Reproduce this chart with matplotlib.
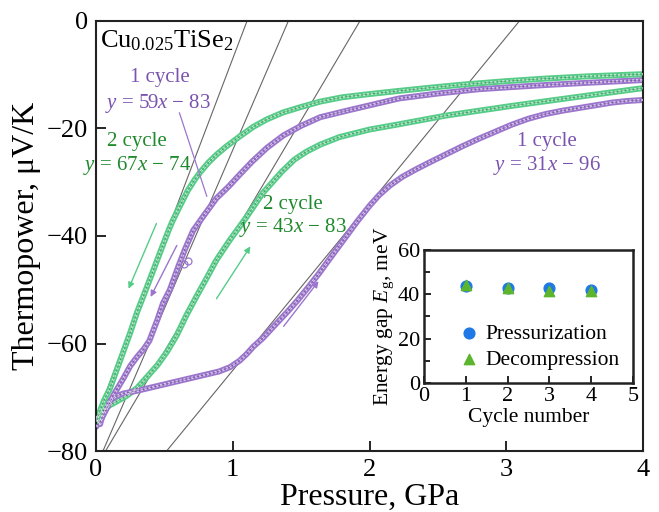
import matplotlib
matplotlib.use("Agg")
import matplotlib.pyplot as plt

plt.rcParams['font.family'] = ['Liberation Serif', 'DejaVu Serif']
plt.rcParams['mathtext.fontset'] = 'custom'
plt.rcParams['mathtext.rm'] = 'Liberation Serif'
plt.rcParams['mathtext.it'] = 'Liberation Serif:italic'

# --- main panel data ---
# cycle 1, pressurization (lower purple)
p1_up_x = [0.00, 0.03, 0.06, 0.10, 0.15, 0.20, 0.30, 0.40, 0.50, 0.60, 0.70, 0.80, 0.90,
           0.98, 1.05, 1.10, 1.15, 1.22, 1.30, 1.40, 1.47, 1.55, 1.63, 1.71, 1.80, 1.91,
           2.00, 2.07, 2.15, 2.24, 2.34, 2.44, 2.56, 2.68, 2.80, 2.92, 3.04, 3.16, 3.29,
           3.41, 3.53, 3.65, 3.77, 3.88, 4.00]
p1_up_y = [-73.5, -75.0, -72.0, -70.6, -69.8, -69.3, -68.8, -68.2, -67.6, -67.0, -66.4, -65.8, -65.2,
           -64.4, -63.2, -62.0, -60.6, -59.0, -56.8, -54.1, -52.1, -49.6, -47.0, -44.2, -41.1, -37.3,
           -34.4, -32.4, -30.6, -29.0, -27.6, -26.3, -24.8, -23.3, -21.9, -20.6, -19.3, -18.2, -17.3,
           -16.7, -16.2, -15.7, -15.2, -14.9, -14.7]

# cycle 1, decompression (upper purple)
p1_dn_x = [0.00, 0.03, 0.08, 0.13, 0.20, 0.25, 0.30, 0.35, 0.39, 0.45, 0.49, 0.54, 0.60, 0.65,
           0.71, 0.78, 0.88, 0.97, 1.05, 1.14, 1.25, 1.37, 1.50, 1.64, 1.85, 2.05, 2.22, 2.50,
           2.80, 3.04, 3.30, 3.60, 4.00]
p1_dn_y = [-75.5, -74.5, -72.0, -69.5, -66.5, -64.2, -62.5, -61.0, -59.5, -55.5, -52.5, -50.0, -45.8, -42.5,
           -39.0, -36.5, -33.0, -30.8, -28.6, -26.2, -23.6, -21.3, -19.5, -17.9, -16.6, -15.4, -14.4, -13.5,
           -12.7, -12.3, -11.9, -11.5, -11.0]
p1_out_x = [0.64, 0.67]
p1_out_y = [-45.2, -44.6]

# cycle 2, pressurization (lower green)
p2_up_x = [0.00, 0.05, 0.10, 0.15, 0.22, 0.30, 0.37, 0.45, 0.52, 0.59, 0.66, 0.74, 0.81, 0.88,
           0.98, 1.10, 1.22, 1.36, 1.45, 1.54, 1.64, 1.78, 2.00, 2.22, 2.56, 3.04, 3.53, 4.00]
p2_up_y = [-74.0, -72.5, -71.5, -70.8, -69.8, -68.3, -66.3, -64.0, -61.5, -58.5, -54.8, -51.0, -47.8, -44.5,
           -40.7, -36.5, -32.0, -28.0, -25.8, -24.3, -23.0, -21.6, -20.2, -19.2, -17.6, -15.8, -14.1, -12.5]

# cycle 2, decompression (upper green)
p2_dn_x = [0.00, 0.03, 0.06, 0.10, 0.15, 0.20, 0.25, 0.30, 0.36, 0.42, 0.48, 0.53, 0.56, 0.61,
           0.67, 0.72, 0.76, 0.82, 0.88, 0.95, 1.05, 1.15, 1.25, 1.37, 1.50, 1.64, 1.80, 2.00,
           2.22, 2.45, 2.70, 3.00, 3.30, 3.60, 3.80, 4.00]
p2_dn_y = [-74.5, -72.5, -70.5, -68.5, -65.0, -61.5, -58.0, -54.2, -50.3, -46.3, -42.3, -39.0, -37.2, -34.6,
           -31.6, -29.6, -28.2, -26.4, -24.9, -23.4, -21.5, -19.7, -18.3, -17.0, -16.0, -15.0, -14.2, -13.6,
           -13.0, -12.4, -11.8, -11.2, -10.7, -10.3, -10.1, -9.9]

# linear fits: slope, intercept
fit_slopes = [67, 59, 43, 31]
fit_icepts = [-74, -83, -83, -96]

# --- inset data ---
cycles = [1, 2, 3, 4]
gap_press = [43.8, 42.8, 42.8, 42.0]
gap_decomp = [44.3, 42.8, 41.7, 41.5]

purple = '#9b76cc'
purple_txt = '#7a52b0'
green = '#56cc88'
green_txt = '#1f8a2c'

fig = plt.figure(figsize=(6.59, 5.12), dpi=100)
ax = fig.add_axes([0.1457, 0.1191, 0.830, 0.840])

for k, b in zip(fit_slopes, fit_icepts):
    ax.plot([-1, 5], [k * -1 + b, k * 5 + b], color='#666666', lw=0.8, zorder=1)


def band(x, y, c, dark):
    # dense open markers in the original -> textured tube
    ax.plot(x, y, color=c, lw=4.3, solid_capstyle='round', solid_joinstyle='round', zorder=2)
    ax.plot(x, y, color='white', lw=1.6, ls=(0, (1.0, 0.8)), alpha=0.8, zorder=3)
    ax.plot(x, y, color=dark, lw=0.5, alpha=0.6, zorder=3)


band(p2_up_x, p2_up_y, green, '#1f7a3c')
band(p1_up_x, p1_up_y, purple, '#5a3290')
band(p1_dn_x, p1_dn_y, purple, '#5a3290')
ax.plot(p1_out_x, p1_out_y, ls='none', marker='o', ms=5, mfc='none', mec=purple, mew=0.9, zorder=3)
band(p2_dn_x, p2_dn_y, green, '#1f7a3c')

# direction arrows
arr = [((0.45, -37.2), (0.23, -50.3), green),
       ((0.60, -41.3), (0.39, -51.8), purple),
       ((0.87, -52.1), (1.14, -41.5), green),
       ((1.36, -57.2), (1.64, -48.0), purple)]
for start, end, c in arr:
    ax.annotate('', xy=end, xytext=start,
                arrowprops=dict(arrowstyle='-|>', color=c, lw=1.0, mutation_scale=9), zorder=4)

# leader line for the 59x-83 label
ax.plot([0.61, 0.81], [-17.1, -32.6], color=purple, lw=0.9, zorder=4)

fs = 15
ax.text(0.03, -3.6, r'Cu$_{0.025}$TiSe$_2$', fontsize=19, ha='left', va='center')
ax.text(0.467, -10.6, '1 cycle', color=purple_txt, fontsize=fs, ha='center', va='center')
ax.text(0.453, -15.3, r'$y$ = 59$x$ − 83', color=purple_txt, fontsize=fs, ha='center', va='center')
ax.text(0.30, -22.5, '2 cycle', color=green_txt, fontsize=fs, ha='center', va='center')
ax.text(0.30, -26.8, r'$y$ = 67$x$ − 74', color=green_txt, fontsize=fs, ha='center', va='center')
ax.text(1.44, -34.2, '2 cycle', color=green_txt, fontsize=fs, ha='center', va='center')
ax.text(1.44, -38.5, r'$y$ = 43$x$ − 83', color=green_txt, fontsize=fs, ha='center', va='center')
ax.text(3.30, -22.5, '1 cycle', color=purple_txt, fontsize=fs, ha='center', va='center')
ax.text(3.30, -26.8, r'$y$ = 31$x$ − 96', color=purple_txt, fontsize=fs, ha='center', va='center')

ax.set_xlim(0, 4)
ax.set_ylim(-80, 0)
ax.set_xticks([0, 1, 2, 3, 4])
ax.set_yticks([-80, -60, -40, -20, 0])
ax.tick_params(direction='in', length=7, width=1.2, labelsize=19, pad=6)
ax.set_xlabel('Pressure, GPa', fontsize=23, labelpad=1)
ax.set_ylabel('Thermopower, μV/K', fontsize=23, labelpad=4)
for s in ax.spines.values():
    s.set_linewidth(1.5)
    s.set_color('#222222')

# inset
ins = fig.add_axes([0.6434, 0.2520, 0.3171, 0.2598])
ins.scatter(cycles, gap_press, s=60, marker='o', color='#1e78e6', zorder=3, label='Pressurization')
ins.scatter(cycles, gap_decomp, s=55, marker='^', color='#5cb52c', zorder=4, label='Decompression')
ins.set_xlim(0, 5)
ins.set_ylim(0, 60)
ins.set_xticks([0, 1, 2, 3, 4, 5])
ins.set_yticks([0, 20, 40, 60])
ins.set_yticks([10, 30, 50], minor=True)
ins.tick_params(which='both', direction='in', labelsize=16, pad=3, width=1.2)
ins.tick_params(which='major', length=5)
ins.tick_params(which='minor', length=4)
ins.set_xlabel('Cycle number', fontsize=15.5, labelpad=1)
ins.set_ylabel(r'Energy gap $E_{\mathrm{g}}$, meV', fontsize=15.5, labelpad=1)
for s in ins.spines.values():
    s.set_linewidth(1.8)
    s.set_color('#222222')
ins.legend(loc='lower right', frameon=False, fontsize=15.5, handletextpad=0.2,
           borderaxespad=0.2, labelspacing=0.3, handlelength=1.2)

fig.savefig('out.png', dpi=100)
